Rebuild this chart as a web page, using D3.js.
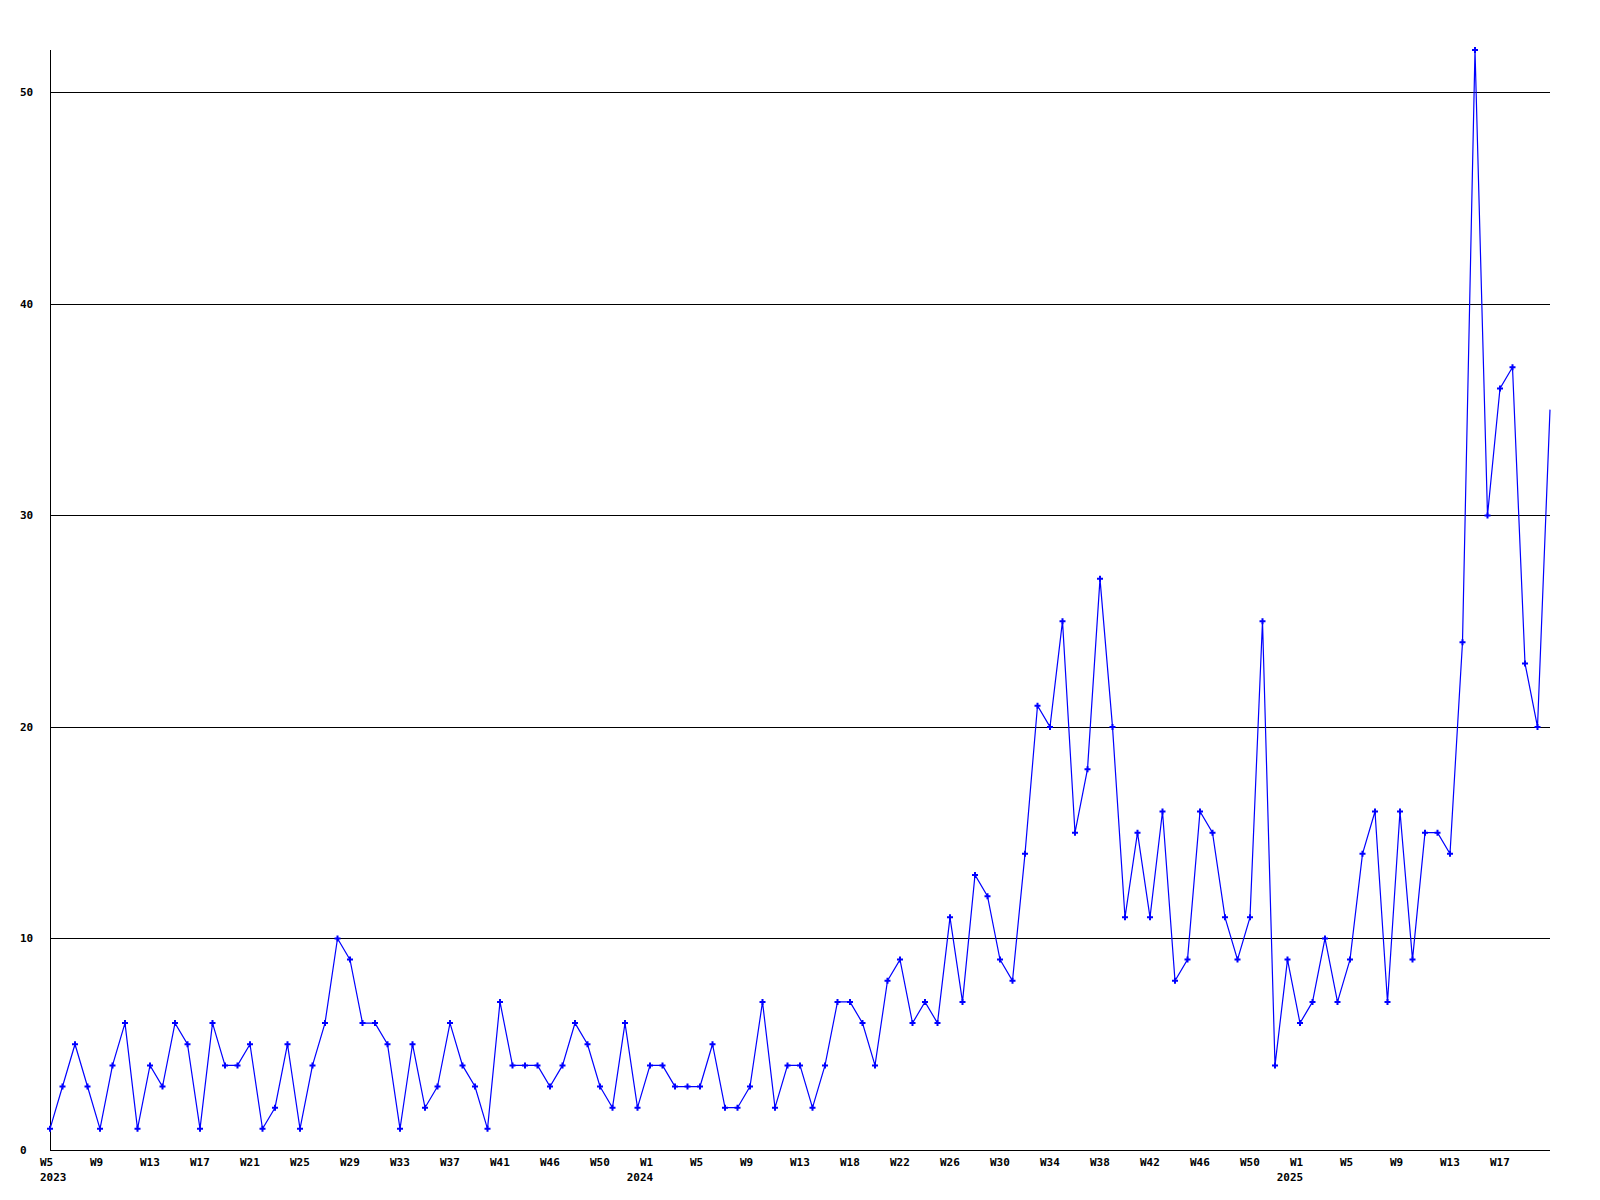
<!DOCTYPE html>
<html>
<head>
<meta charset="utf-8">
<script src="https://cdn.jsdelivr.net/npm/d3@7"></script>
<style>
  html, body { margin: 0; padding: 0; background: #fff; }
  svg { display: block; }
  text { font-family: "DejaVu Sans Mono", "Liberation Mono", monospace; font-weight: bold; font-size: 11px; fill: #000; }
</style>
</head>
<body>
<svg id="chart" width="1600" height="1200"></svg>
<script>
// Weekly counts, 2023 W5 .. 2025 (last point is the current, partial week)
const values = [
  1,3,5,3,1,4,6,1,4,3,
  6,5,1,6,4,4,5,1,2,5,
  1,4,6,10,9,6,6,5,1,5,
  2,3,6,4,3,1,7,4,4,4,
  3,4,6,5,3,2,6,2,4,4,
  3,3,3,5,2,2,3,7,2,4,
  4,2,4,7,7,6,4,8,9,6,
  7,6,11,7,13,12,9,8,14,21,
  20,25,15,18,27,20,11,15,11,16,
  8,9,16,15,11,9,11,25,4,9,
  6,7,10,7,9,14,16,7,16,9,
  15,15,14,24,52,30,36,37,23,20,
  35
];
// x-axis labels, one every 4 points
const weekLabels = ["W5","W9","W13","W17","W21","W25","W29","W33","W37","W41","W46","W50",
  "W1","W5","W9","W13","W18","W22","W26","W30","W34","W38","W42","W46","W50",
  "W1","W5","W9","W13","W17"];
const yearLabels = [
  {label: 0, text: "2023"},
  {label: 12, text: "2024"},
  {label: 25, text: "2025"}
];
const yTicks = [0, 10, 20, 30, 40, 50];
const yMax = 52;
const labelStep = 4;

(function () {
  const svg = d3.select("#chart");
  const mLeft = 50, mRight = 1550, mTop = 50, mBottom = 1150;

  const x = d3.scaleLinear().domain([0, values.length - 1]).range([mLeft, mRight]);
  const y = d3.scaleLinear().domain([0, yMax]).range([mBottom, mTop]);

  // gridlines
  svg.append("g").selectAll("line")
    .data(yTicks.filter(d => d > 0))
    .join("line")
    .attr("x1", mLeft).attr("x2", mRight)
    .attr("y1", d => Math.round(y(d)) + 0.5).attr("y2", d => Math.round(y(d)) + 0.5)
    .attr("stroke", "#000").attr("stroke-width", 1);

  // axes lines
  svg.append("line").attr("x1", mLeft + 0.5).attr("x2", mLeft + 0.5)
    .attr("y1", mTop).attr("y2", mBottom + 0.5).attr("stroke", "#000");
  svg.append("line").attr("x1", mLeft).attr("x2", mRight)
    .attr("y1", mBottom + 0.5).attr("y2", mBottom + 0.5).attr("stroke", "#000");

  // y labels
  svg.append("g").selectAll("text")
    .data(yTicks)
    .join("text")
    .attr("x", 20)
    .attr("y", d => Math.round(y(d)) + 4)
    .text(d => d);

  // x labels
  svg.append("g").selectAll("text")
    .data(weekLabels)
    .join("text")
    .attr("x", (d, i) => x(i * labelStep) - 10)
    .attr("y", 1166)
    .text(d => d);

  svg.append("g").selectAll("text")
    .data(yearLabels)
    .join("text")
    .attr("x", d => x(d.label * labelStep) - 10)
    .attr("y", 1181)
    .attr("text-anchor", d => d.label === 0 ? "start" : "middle")
    .text(d => d.text);

  // line
  const line = d3.line().x((d, i) => x(i)).y(d => y(d));
  svg.append("path")
    .datum(values)
    .attr("d", line)
    .attr("fill", "none")
    .attr("stroke", "#0000ff")
    .attr("stroke-width", 1.2);

  // markers (not on the partial last week)
  const sym = d3.symbol().type(d3.symbolCross).size(20);
  svg.append("g").selectAll("path")
    .data(values.slice(0, values.length - 1))
    .join("path")
    .attr("transform", (d, i) => `translate(${x(i)},${y(d)})`)
    .attr("d", sym)
    .attr("fill", "#0000ff");
})();
</script>
</body>
</html>
